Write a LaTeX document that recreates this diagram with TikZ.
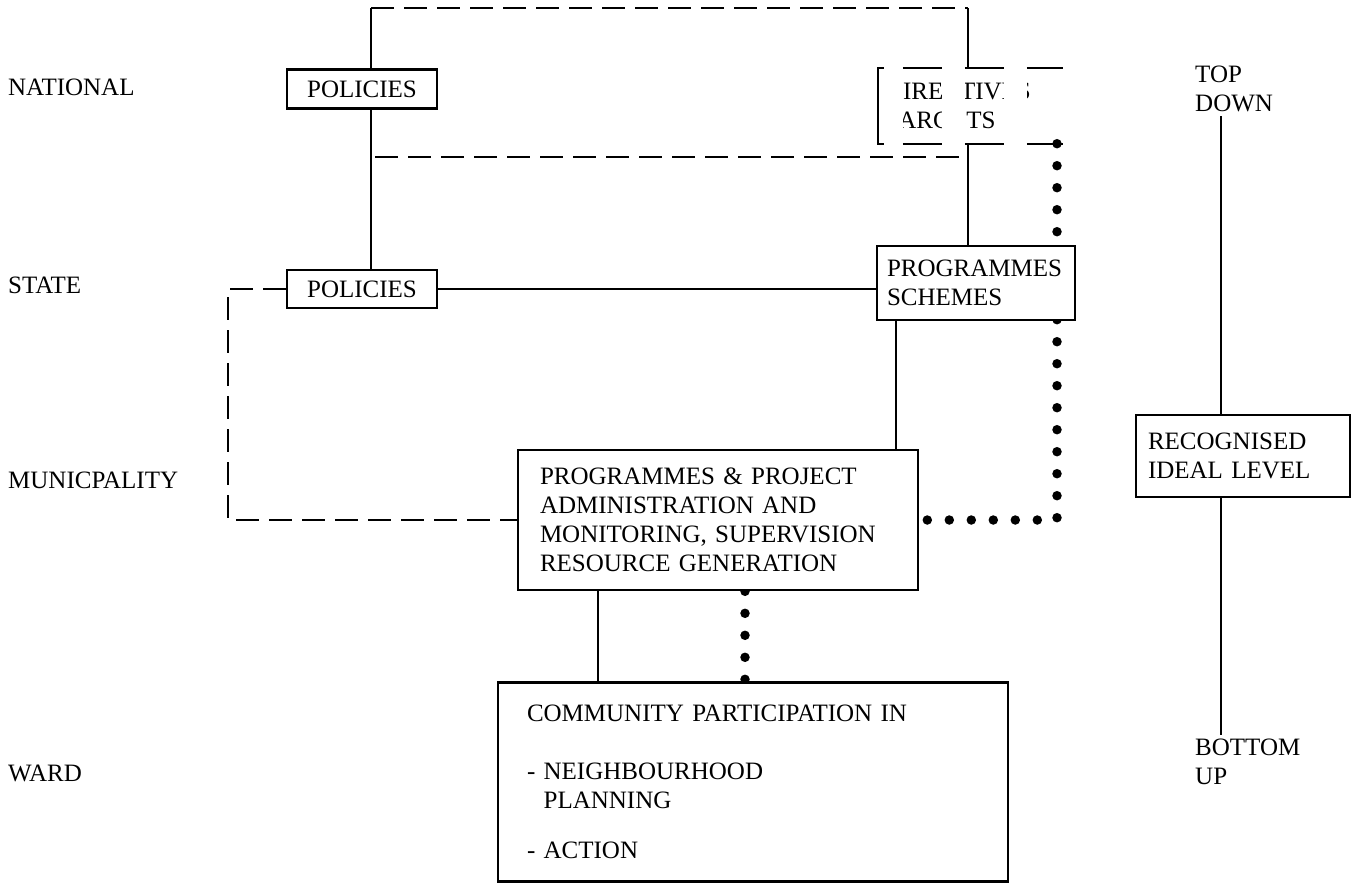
\documentclass[tikz,border=0pt]{standalone}
\usepackage{fontspec}
\setmainfont{Liberation Serif}
\usepackage{tikz}
\usetikzlibrary{calc}
\pgfdeclarelayer{bg}
\pgfsetlayers{bg,main}

\begin{document}
\begin{tikzpicture}[x=1pt,y=-1pt,line join=miter,
   font=\fontsize{25}{29}\selectfont,
   lvl/.style={anchor=west,inner sep=0pt,align=left},
   tbox/.style={draw,fill=white,line width=2.6pt,inner ysep=0pt,align=left},
   link/.style={line width=2pt},
   dlink/.style={line width=2pt,dash pattern=on 23pt off 10pt},
   blob/.style={line width=9.5pt,line cap=round,dash pattern=on 0pt off 22pt}]
\useasboundingbox (0,0) rectangle (1355,884);
% levels
\node[lvl] (national) at (8,87)  {NATIONAL};
\node[lvl] (state)    at (8,285) {STATE};
\node[lvl] (munic)    at (8,480) {MUNICPALITY};
\node[lvl] (ward)     at (8,773) {WARD};
% boxes
\node[tbox,inner xsep=0pt,minimum width=150pt,minimum height=39pt] (natpol)   at (362,89)  {POLICIES};
\node[tbox,inner xsep=0pt,minimum width=150pt,minimum height=38pt] (statepol) at (362,289) {POLICIES};
\node[lvl,anchor=center,inner xsep=7pt,text width=171pt,minimum height=75pt] (dir) at (970.5,106) {DIRECTIVES\\TARGETS};
\node[tbox,inner xsep=10pt,text width=178pt,minimum height=74pt] (prog) at (976,283) {PROGRAMMES\\SCHEMES};
\node[tbox,inner xsep=22pt,text width=356pt,minimum height=140pt] (admin) at (718,520)
  {PROGRAMMES \& PROJECT\\ADMINISTRATION AND\\MONITORING, SUPERVISION\\RESOURCE GENERATION};
\node[tbox,inner xsep=29pt,text width=452pt,minimum height=199pt] (comm) at (753,782)
  {COMMUNITY PARTICIPATION IN\\[29pt]- NEIGHBOURHOOD\\\phantom{- }PLANNING\\[21pt]- ACTION};
\node[tbox,inner xsep=12pt,text width=190pt,minimum height=82pt] (ideal) at (1243,456) {RECOGNISED\\IDEAL LEVEL};
\node[lvl] (topdown)  at (1195,89)  {TOP\\DOWN};
\node[lvl] (bottomup) at (1195,762) {BOTTOM\\UP};
% directives box, broken edges
\draw[link] ([xshift=6pt]dir.north west) -- (dir.north west) -- (dir.south west) -- ([xshift=6pt]dir.south west);
\foreach\e in {north,south}
  \draw[link,dash pattern=on 39pt off 23pt] ([xshift=25pt]dir.\e\space west) -- (dir.\e\space east);
\foreach\gx/\gw in {4/21,64/23,126/23}
  \fill[white] ([xshift=\gx pt,yshift=-3pt]dir.north west) rectangle ++(\gw,69);
% connectors
\coordinate (tl) at (371,8);
\coordinate (tr) at (968,8);
\coordinate (lc) at (228,400);
\coordinate (pv) at (896,0);
\coordinate (dx) at (1057,0);
\coordinate (sv) at (598,0);
\coordinate (cv) at (745,0);
\coordinate (rv) at (1221,0);
\begin{pgfonlayer}{bg}
\draw[link] (natpol.north -| tl) -- (tl);
\draw[dlink] (tl) -- (tr);
\draw[link] (tr) -- (tr |- dir.north);
\draw[link] (natpol.south -| tl) -- (statepol.north -| tl);
\draw[dlink] (375,157) -- (962,157);
\draw[link] (dir.south -| tr) -- (prog.north -| tr);
\draw[link] (statepol.east) -- (statepol.east -| prog.west);
\draw[dlink] (statepol.west) -| (lc) |- (admin.west);
\draw[link] (prog.south -| pv) -- (admin.north -| pv);
\draw[link] (admin.south -| sv) -- (comm.north -| sv);
% dotted links
\draw[blob] (dir.south -| dx) -- (dx |- admin.east) -- (admin.east);
\draw[blob] (admin.south -| cv) -- (comm.north -| cv);
% top down / bottom up
\draw[link] ([yshift=-4pt]topdown.south -| rv) -- (ideal.north -| rv);
\draw[link] (ideal.south -| rv) -- ([yshift=4pt]bottomup.north -| rv);
\end{pgfonlayer}
\end{tikzpicture}
\end{document}
